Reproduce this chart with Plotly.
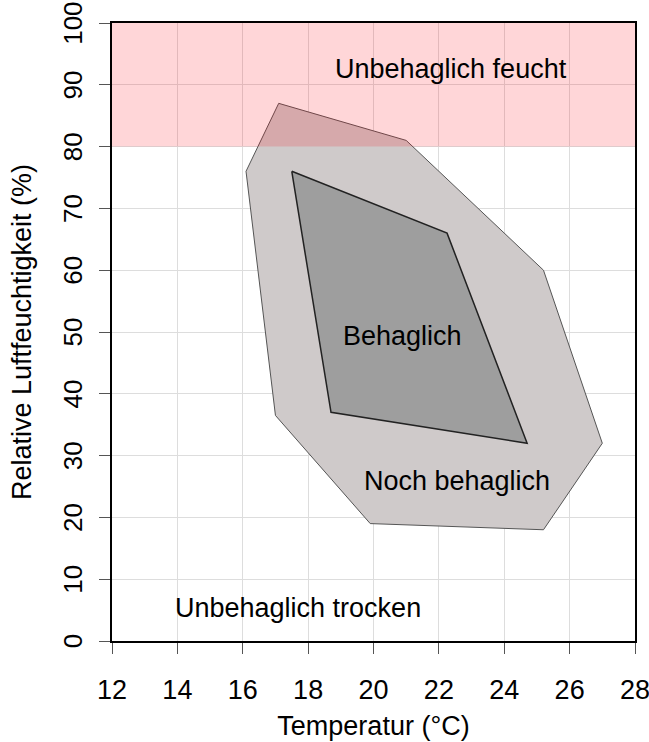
import plotly.graph_objects as go

# Outer region "Noch behaglich"
outer_temp = [17.1, 21.0, 25.2, 27.0, 25.2, 19.9, 17.0, 16.1]
outer_hum = [87, 81, 60, 32, 18, 19, 36.5, 76]

# Inner region "Behaglich"
inner_temp = [17.5, 22.25, 24.7, 18.7]
inner_hum = [76, 66, 32, 37]

# Humid band
humid_low, humid_high = 80, 100

labels = ["Unbehaglich feucht", "Behaglich", "Noch behaglich", "Unbehaglich trocken"]
label_x = [22.38, 20.9, 22.56, 17.7]
label_y = [92.6, 49.3, 25.85, 5.35]

x_ticks = list(range(12, 29, 2))
y_ticks = list(range(0, 101, 10))

FONT = "Liberation Sans, Arial, sans-serif"
FS = 27

fig = go.Figure()
fig.add_trace(go.Scatter(
    x=outer_temp + [outer_temp[0]], y=outer_hum + [outer_hum[0]],
    fill="toself", fillcolor="#CFCACA", mode="lines",
    line=dict(color="#555555", width=1), hoverinfo="skip", showlegend=False))
fig.add_trace(go.Scatter(
    x=inner_temp + [inner_temp[0]], y=inner_hum + [inner_hum[0]],
    fill="toself", fillcolor="#9E9E9E", mode="lines",
    line=dict(color="#222222", width=1.5), hoverinfo="skip", showlegend=False))

fig.add_shape(type="rect", xref="x", yref="y", x0=12, x1=28, y0=humid_low, y1=humid_high,
              fillcolor="rgba(255,0,10,0.16)", line=dict(width=0), layer="above")

for t, x, y in zip(labels, label_x, label_y):
    fig.add_annotation(x=x, y=y, text=t, showarrow=False,
                       font=dict(family=FONT, size=FS, color="black"))

fig.update_layout(
    width=649, height=742,
    margin=dict(l=112, r=14, t=23, b=101),
    paper_bgcolor="white", plot_bgcolor="white",
    font=dict(family=FONT, size=FS, color="black"),
    showlegend=False,
)
fig.update_xaxes(
    range=[12, 28], tickvals=x_ticks, ticks="outside", ticklen=11, tickcolor="#555555",
    showline=True, linecolor="black", linewidth=1.5, mirror=True, automargin=False,
    showgrid=True, gridcolor="#DDDDDD", gridwidth=1, zeroline=False,
    ticklabelstandoff=13, ticklabeloverflow="allow",
    title=dict(text="Temperatur (°C)", font=dict(size=FS), standoff=12),
    tickfont=dict(size=FS),
)
fig.update_yaxes(
    range=[0, 100], tickvals=y_ticks, ticks="outside", ticklen=11, tickcolor="#555555",
    showline=True, linecolor="black", linewidth=1.5, mirror=True, automargin=False,
    showgrid=True, gridcolor="#DDDDDD", gridwidth=1, zeroline=False,
    tickangle=-90, ticklabelstandoff=7, ticklabelshift=4, ticklabeloverflow="allow",
    title=dict(text="Relative Luftfeuchtigkeit (%)", font=dict(size=FS), standoff=18),
    tickfont=dict(size=26),
)

fig.write_html("out.html", config={"displayModeBar": False},
               post_script="document.body.style.margin='0';")
